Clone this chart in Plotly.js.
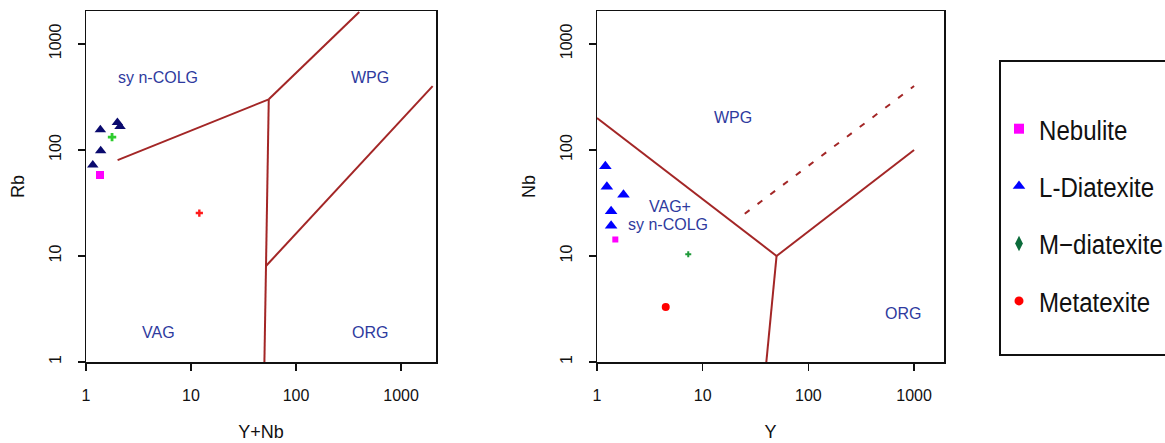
<!DOCTYPE html>
<html>
<head>
<meta charset="utf-8">
<script src="https://cdn.plot.ly/plotly-3.0.1.min.js"></script>
<style>html,body{margin:0;padding:0;background:#fff;}#chart{width:1165px;height:443px;}</style>
</head>
<body>
<div id="chart"></div>
<script>
// ---- Data: Rb vs Y+Nb (left panel) ----
const nebRbX = [1.36];
const nebRbY = [58];
const ldiaRbX = [1.37, 1.99, 2.11, 1.38, 1.16];
const ldiaRbY = [155, 181, 166, 98, 72];
const mdiaRbX = [1.77];
const mdiaRbY = [132];
const metaRbX = [12];
const metaRbY = [25.4];

// ---- Data: Nb vs Y (right panel) ----
const nebNbX = [1.49];
const nebNbY = [14.3];
const ldiaNbX = [1.2, 1.24, 1.78, 1.36, 1.36];
const ldiaNbY = [70, 45, 37.8, 26.4, 19.3];
const mdiaNbX = [7.3];
const mdiaNbY = [10.4];
const metaNbX = [4.47];
const metaNbY = [3.3];

// ---- Field boundaries (Pearce et al. 1984) ----
const rbB1X = [2, 55], rbB1Y = [80, 300];          // syn-COLG / VAG
const rbB2X = [55, 400], rbB2Y = [300, 2000];      // syn-COLG / WPG
const rbB3X = [55, 51.5, 50], rbB3Y = [300, 8, 1]; // VAG / ORG
const rbB4X = [51.5, 2000], rbB4Y = [8, 400];      // WPG / ORG
const nbB1X = [1, 50], nbB1Y = [200, 10];
const nbB2X = [50, 1000], nbB2Y = [10, 100];
const nbB3X = [50, 40], nbB3Y = [10, 1];
const nbB4X = [25, 1000], nbB4Y = [25, 400];       // dashed

const seriesNames = ["Nebulite", "L-Diatexite", "M\u2212diatexite", "Metatexite"];
const tickVals = [1, 10, 100, 1000];
const tickText = ["1", "10", "100", "1000"];

const W = 1165, H = 443;
const px = v => v / W;
const py = v => (H - v) / H;

const lineCol = "#a32626";
const labelCol = "#2e3a9e";

function bline(x, y, xa, ya, dash) {
  return {x: x, y: y, xaxis: xa, yaxis: ya, type: "scatter", mode: "lines",
    line: {color: lineCol, width: 2, dash: dash || "solid"}, showlegend: false, hoverinfo: "skip"};
}
function pts(x, y, xa, ya, sym, col, size) {
  return {x: x, y: y, xaxis: xa, yaxis: ya, type: "scatter", mode: "markers",
    marker: {symbol: sym, color: col, size: size, line: {width: 0}}, showlegend: false};
}
function leg(name, sym, col, size, grp) {
  return {x: [null], y: [null], xaxis: "x", yaxis: "y", type: "scatter", mode: "markers",
    name: name, legendgroup: grp, marker: {symbol: sym, color: col, size: size}, showlegend: true};
}

const data = [
  bline(rbB1X, rbB1Y, "x", "y"), bline(rbB2X, rbB2Y, "x", "y"),
  bline(rbB3X, rbB3Y, "x", "y"), bline(rbB4X, rbB4Y, "x", "y"),
  bline(nbB1X, nbB1Y, "x2", "y2"), bline(nbB2X, nbB2Y, "x2", "y2"),
  bline(nbB3X, nbB3Y, "x2", "y2"), bline(nbB4X, nbB4Y, "x2", "y2", "6px,10px"),
  pts(ldiaRbX, ldiaRbY, "x", "y", "triangle-up", "#0a0a6e", 10),
  pts(nebRbX, nebRbY, "x", "y", "square", "#ff00ff", 8),
  pts(mdiaRbX, mdiaRbY, "x", "y", "cross", "#2ecc2e", 7),
  pts(metaRbX, metaRbY, "x", "y", "cross", "#ff1a1a", 6),
  pts(ldiaNbX, ldiaNbY, "x2", "y2", "triangle-up", "#0000ff", 11),
  pts(nebNbX, nebNbY, "x2", "y2", "square", "#ff00ff", 6),
  pts(mdiaNbX, mdiaNbY, "x2", "y2", "cross", "#1f9a3a", 5),
  pts(metaNbX, metaNbY, "x2", "y2", "circle", "#ff0000", 8),
  leg(seriesNames[0], "square", "#ff00ff", 10, "g1"),
  leg(seriesNames[1], "triangle-up", "#0000ff", 11, "g2"),
  leg(seriesNames[2], "diamond-tall", "#0b6b3a", 11, "g3"),
  leg(seriesNames[3], "circle", "#ff0000", 9, "g4")
];

const tickFont = {family: "Liberation Sans, Arial, sans-serif", size: 16, color: "#111"};
const titleFont = {family: "Liberation Sans, Arial, sans-serif", size: 18, color: "#111"};

function xax(domain, range, title) {
  return {type: "log", domain: domain, range: range, showgrid: false, zeroline: false,
    showline: true, linecolor: "#111", linewidth: 1.5, mirror: true,
    ticks: "outside", ticklen: 7, tickwidth: 1.5, tickcolor: "#111",
    tickvals: tickVals, ticktext: tickText, tickfont: tickFont, ticklabelstandoff: 11,
    title: {text: title, font: titleFont, standoff: 22}, automargin: false, fixedrange: true};
}
function yax(domain, range, title, anchor) {
  return {type: "log", domain: domain, range: range, anchor: anchor, showgrid: false, zeroline: false,
    showline: true, linecolor: "#111", linewidth: 1.5, mirror: true,
    ticks: "outside", ticklen: 7, tickwidth: 1.5, tickcolor: "#111",
    tickvals: tickVals, ticktext: tickText, tickfont: tickFont, tickangle: -90, ticklabelstandoff: 10,
    title: {text: title, font: titleFont, standoff: 18}, automargin: false, fixedrange: true};
}

const yDom = [py(362), py(11)];
const labFont = {family: "Liberation Sans, Arial, sans-serif", size: 16, color: labelCol};
function lab(text, x, y, xr, yr) {
  return {text: text, x: Math.log10(x), y: Math.log10(y), xref: xr, yref: yr, showarrow: false, font: labFont};
}

const layout = {
  width: W, height: H,
  margin: {l: 0, r: 0, t: 0, b: 0, autoexpand: false},
  paper_bgcolor: "#fff", plot_bgcolor: "#fff",
  xaxis: xax([px(86), px(436)], [0, 3.333], "Y+Nb"),
  yaxis: yax(yDom, [0, 3.31], "Rb", "x"),
  xaxis2: Object.assign(xax([px(597), px(944)], [0, 3.283], "Y"), {anchor: "y2"}),
  yaxis2: yax(yDom, [0, 3.31], "Nb", "x2"),
  showlegend: true,
  legend: {x: px(999), y: py(104), xanchor: "left", yanchor: "top", traceorder: "grouped",
    tracegroupgap: 18, bgcolor: "rgba(0,0,0,0)", borderwidth: 0,
    font: {family: "Liberation Sans Narrow, Liberation Sans, Arial, sans-serif", size: 28, color: "#111"}},
  annotations: [
    lab("sy n-COLG", 4.85, 480, "x", "y"),
    lab("WPG", 507, 480, "x", "y"),
    lab("VAG", 4.85, 1.89, "x", "y"),
    lab("ORG", 507, 1.89, "x", "y"),
    lab("WPG", 19.4, 200, "x2", "y2"),
    lab("VAG+", 4.92, 29, "x2", "y2"),
    lab("sy n-COLG", 4.71, 19.7, "x2", "y2"),
    lab("ORG", 782, 2.85, "x2", "y2")
  ],
  shapes: [
    {type: "rect", xref: "paper", yref: "paper", x0: px(1000), x1: px(1175), y0: py(355), y1: py(61),
      line: {color: "#111", width: 2}, fillcolor: "rgba(0,0,0,0)"}
  ]
};

Plotly.newPlot("chart", data, layout, {staticPlot: true, displayModeBar: false}).then(function (gd) {
  // condense legend labels horizontally, like the narrow font of the reference
  const s = 0.86;
  gd.querySelectorAll(".legend text.legendtext").forEach(function (t) {
    const x0 = parseFloat(t.getAttribute("x")) || 0;
    t.setAttribute("transform", "translate(" + (x0 * (1 - s)).toFixed(2) + ",0) scale(" + s + ",1)");
  });
});
</script>
</body>
</html>
